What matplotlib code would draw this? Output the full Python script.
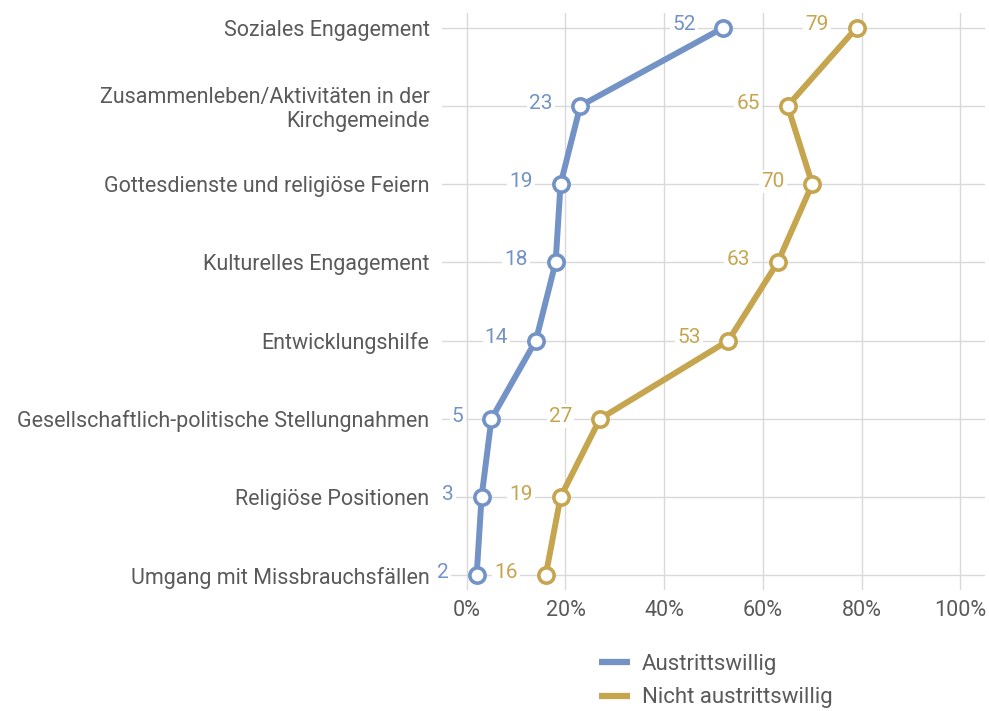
import numpy as np
import matplotlib.pyplot as plt

# data
kategorien = ['Soziales Engagement',
              'Zusammenleben/Aktivitäten in der\nKirchgemeinde',
              'Gottesdienste und religiöse Feiern',
              'Kulturelles Engagement',
              'Entwicklungshilfe',
              'Gesellschaftlich-politische Stellungnahmen',
              'Religiöse Positionen',
              'Umgang mit Missbrauchsfällen']
austrittswillig = [52, 23, 19, 18, 14, 5, 3, 2]
nicht_austrittswillig = [79, 65, 70, 63, 53, 27, 19, 16]
xticks = [0, 20, 40, 60, 80, 100]
xlabels = ['0%', '20%', '40%', '60%', '80%', '100%']

blau = '#7393c6'
gold = '#c6a54f'
grau = '#5a5a5a'

plt.rcParams['font.family'] = ['Roboto', 'DejaVu Sans']

fig = plt.figure(figsize=(9.89, 7.11), dpi=100)
ax = fig.add_axes([0.447, 0.170, 0.549, 0.812])

y = np.arange(len(kategorien))

for werte, farbe, name in [(austrittswillig, blau, 'Austrittswillig'),
                           (nicht_austrittswillig, gold, 'Nicht austrittswillig')]:
    ax.plot(werte, y, color=farbe, linewidth=4.3, marker='o', markersize=11,
            markerfacecolor='white', markeredgecolor=farbe, markeredgewidth=2.6,
            label=name, zorder=3, solid_capstyle='round')
    for v, yy in zip(werte, y):
        ax.annotate(str(v), (v, yy), xytext=(-20, 2), textcoords='offset points',
                    ha='right', va='center', fontsize=15, color=farbe, zorder=4,
                    bbox=dict(boxstyle='square,pad=0.1', fc='white', ec='none'))

ax.set_xlim(-5, 105)
ax.set_ylim(len(kategorien) - 1 + 0.19, -0.19)
ax.set_yticks(y)
ax.set_yticklabels(kategorien, fontsize=15.5, color=grau, linespacing=1.15)
ax.set_xticks(xticks)
ax.set_xticklabels(xlabels, fontsize=15.5, color=grau)
ax.tick_params(length=0)
ax.tick_params(axis='y', pad=9)
ax.tick_params(axis='x', pad=7)
ax.grid(True, color='#d9d9d9', linewidth=1, zorder=0)
ax.set_axisbelow(True)
for s in ax.spines.values():
    s.set_visible(False)

leg = fig.legend(loc='upper left', bbox_to_anchor=(0.585, 0.108), frameon=False,
                 fontsize=16, handlelength=1.4, handletextpad=0.55, labelspacing=0.55,
                 labelcolor=grau)
for h in leg.legend_handles:
    h.set_marker('')
    h.set_linewidth(4.5)
    h.set_solid_capstyle('butt')

fig.savefig('out.png', dpi=100)
